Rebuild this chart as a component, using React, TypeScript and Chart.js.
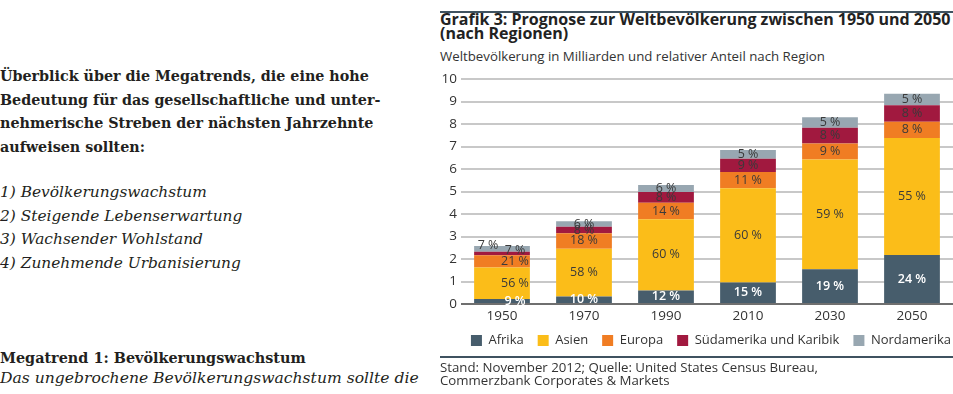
import React, { useEffect, useRef } from "react";
import { Chart, registerables } from "chart.js";

Chart.register(...registerables);

const years = ["1950", "1970", "1990", "2010", "2030", "2050"];
const regions = ["Afrika", "Asien", "Europa", "Südamerika und Karibik", "Nordamerika"];
const afrika = [0.22, 0.33, 0.6, 0.96, 1.54, 2.18];
const asien = [1.4, 2.13, 3.17, 4.18, 4.88, 5.2];
const europa = [0.55, 0.69, 0.73, 0.73, 0.71, 0.72];
const suedamerika = [0.15, 0.28, 0.48, 0.59, 0.7, 0.73];
const nordamerika = [0.26, 0.25, 0.31, 0.39, 0.47, 0.51];
const shareAfrika = [9, 10, 12, 15, 19, 24];
const shareAsien = [56, 58, 60, 60, 59, 55];
const shareEuropa = [21, 18, 14, 11, 9, 8];
const shareSuedamerika = [7, 8, 8, 9, 8, 8];
const shareNordamerika = [7, 6, 6, 5, 5, 5];
const yTicks = [0, 1, 2, 3, 4, 5, 6, 7, 8, 9, 10];

const colors = ["#475d6c", "#fbbd19", "#f07d23", "#a1193f", "#98a7b1"];
const FONT = '"Open Sans", "Noto Sans", sans-serif';

const segLabels = {
  id: "segLabels",
  afterDatasetsDraw(chart: any) {
    const ctx = chart.ctx;
    const shares = [shareAfrika, shareAsien, shareEuropa, shareSuedamerika, shareNordamerika];
    ctx.save();
    ctx.textAlign = "center";
    ctx.textBaseline = "middle";
    chart.data.datasets.forEach((ds: any, di: number) => {
      const meta = chart.getDatasetMeta(di);
      meta.data.forEach((bar: any, i: number) => {
        const p = bar.getProps(["x", "y", "base"], true);
        let x = p.x;
        let y = (p.y + p.base) / 2;
        if (i === 0) {
          if (di < 4) x += 13;
          if (di === 3) y -= 3;
          if (di === 4) { x -= 14; y = p.y - 1; }
        }
        ctx.font = (di === 0 ? "600 " : "") + "12.5px " + FONT;
        ctx.fillStyle = di === 0 ? "#ffffff" : "#3a3a3a";
        ctx.fillText(shares[di][i] + " %", x, y);
      });
    });
    ctx.restore();
  },
};

const legendShift = {
  id: "legendShift",
  afterLayout(chart: any) {
    if (chart.legend) {
      chart.legend.left += 12;
      chart.legend.right += 12;
    }
  },
};

function ChartBox() {
  const ref = useRef<HTMLCanvasElement>(null);
  useEffect(() => {
    const series = [afrika, asien, europa, suedamerika, nordamerika];
    const chart = new Chart(ref.current as HTMLCanvasElement, {
      type: "bar",
      data: {
        labels: years,
        datasets: regions.map((r, i) => ({
          label: r,
          data: series[i],
          backgroundColor: colors[i],
          borderWidth: 0,
          barPercentage: 0.68,
          categoryPercentage: 1,
        })),
      },
      options: {
        animation: false,
        responsive: false,
        maintainAspectRatio: false,
        layout: { padding: { top: 15, right: 0, left: 0, bottom: 0 } },
        plugins: {
          tooltip: { enabled: false },
          legend: {
            position: "bottom",
            align: "end",
            labels: {
              boxWidth: 11,
              boxHeight: 11,
              padding: 14,
              color: "#333",
              font: { family: FONT, size: 13 },
            },
          },
        },
        scales: {
          x: {
            stacked: true,
            grid: { display: false, drawTicks: false },
            border: { display: false },
            ticks: { color: "#333", font: { family: FONT, size: 13.5 }, padding: 4 },
            afterFit: (s: any) => { s.height = 16; },
          },
          y: {
            stacked: true,
            min: 0,
            max: 10,
            afterBuildTicks: (s: any) => { s.ticks = yTicks.map((v) => ({ value: v })); },
            grid: {
              color: (c: any) => (c.tick && c.tick.value === 0 ? "#6f6f6f" : "#c8c8c8"),
              lineWidth: 2,
              drawTicks: false,
            },
            border: { display: false },
            ticks: { color: "#333", font: { family: FONT, size: 13.5 }, padding: 4 },
            afterFit: (s: any) => { s.width = 21; },
          },
        },
      },
      plugins: [segLabels, legendShift],
    });
    return () => chart.destroy();
  }, []);
  return (
    <canvas
      ref={ref}
      width={513}
      height={293}
      style={{ position: "absolute", left: 440, top: 64, width: 513, height: 293 }}
    />
  );
}

export default function App() {
  const serif = '"DejaVu Serif", "Liberation Serif", serif';
  return (
    <div style={{ position: "absolute", left: 0, top: 0, width: 953, height: 394, background: "#fff", overflow: "hidden", color: "#231f20" }}>
      <div style={{ position: "absolute", left: 0, top: 65, fontFamily: serif, fontWeight: "bold", fontSize: 14.3, lineHeight: "23.7px", whiteSpace: "nowrap" }}>
        <div>Überblick über die Megatrends, die eine hohe</div>
        <div>Bedeutung für das gesellschaftliche und unter-</div>
        <div>nehmerische Streben der nächsten Jahrzehnte</div>
        <div>aufweisen sollten:</div>
      </div>
      <div style={{ position: "absolute", left: 0, top: 181, fontFamily: serif, fontStyle: "italic", fontSize: 15.4, lineHeight: "23.7px", whiteSpace: "nowrap" }}>
        <div>1) Bevölkerungswachstum</div>
        <div>2) Steigende Lebenserwartung</div>
        <div>3) Wachsender Wohlstand</div>
        <div>4) Zunehmende Urbanisierung</div>
      </div>
      <div style={{ position: "absolute", left: 0, top: 348, fontFamily: serif, lineHeight: "20px", whiteSpace: "nowrap" }}>
        <div style={{ fontWeight: "bold", fontSize: 14.4 }}>Megatrend 1: Bevölkerungswachstum</div>
        <div style={{ fontStyle: "italic", fontSize: 15.6 }}>Das ungebrochene Bevölkerungswachstum sollte die</div>
      </div>

      <div style={{ position: "absolute", left: 440, top: 11, width: 513, height: 2, background: "#3f5260" }} />
      <div style={{ position: "absolute", left: 440, top: 13, fontFamily: FONT, fontWeight: "bold", fontSize: 16, lineHeight: "13.5px", color: "#222", whiteSpace: "nowrap" }}>
        <div>Grafik 3: Prognose zur Weltbevölkerung zwischen 1950 und 2050</div>
        <div>(nach Regionen)</div>
      </div>
      <div style={{ position: "absolute", left: 440, top: 48, fontFamily: FONT, fontSize: 13.25, lineHeight: "16px", color: "#333", whiteSpace: "nowrap" }}>
        Weltbevölkerung in Milliarden und relativer Anteil nach Region
      </div>
      <ChartBox />
      <div style={{ position: "absolute", left: 440, top: 356, width: 513, height: 2, background: "#3f5260" }} />
      <div style={{ position: "absolute", left: 440, top: 361, fontFamily: FONT, fontSize: 13.25, lineHeight: "13px", color: "#333", whiteSpace: "nowrap" }}>
        <div>Stand: November 2012; Quelle: United States Census Bureau,</div>
        <div>Commerzbank Corporates &amp; Markets</div>
      </div>
    </div>
  );
}
